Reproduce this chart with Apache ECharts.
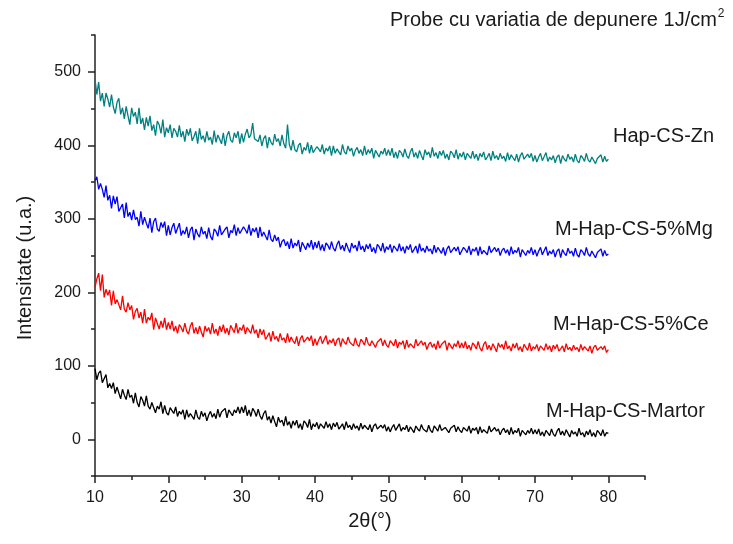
<!DOCTYPE html>
<html>
<head>
<meta charset="utf-8">
<script src="https://cdn.jsdelivr.net/npm/echarts@6/dist/echarts.min.js"></script>
<style>
  html, body { margin: 0; padding: 0; background: #fff; }
  #chart { width: 733px; height: 544px; }
</style>
</head>
<body>
<div id="chart"></div>
<script>
  // 2θ grid of the scans: 10° .. 80°, step 0.25°
  const thetaStart = 10
  const thetaStep = 0.25

  const xTickLabels = [10, 20, 30, 40, 50, 60, 70, 80]
  const xMinorTicks = [15, 25, 35, 45, 55, 65, 75, 85]
  const yTickLabels = [0, 100, 200, 300, 400, 500]
  const yMinorTicks = [-50, 50, 150, 250, 350, 450, 550]
  const seriesNames = ['Hap-CS-Zn', 'M-Hap-CS-5%Mg', 'M-Hap-CS-5%Ce', 'M-Hap-CS-Martor']

  // intensities, one row per 10°
  const hapZn = [
    490, 469, 486, 460, 471, 453, 471, 463, 452, 469, 452, 443, 458, 464, 442, 451, 436, 453, 440, 428,
    451, 439, 445, 429, 451, 429, 437, 421, 438, 426, 440, 420, 428, 413, 433, 428, 416, 435, 411, 424,
    417, 428, 410, 423, 419, 411, 427, 411, 419, 405, 422, 413, 423, 406, 412, 419, 402, 423, 408, 413,
    404, 419, 407, 411, 401, 420, 404, 414, 408, 402, 417, 399, 413, 419, 407, 404, 417, 410, 419, 402,
    416, 404, 415, 422, 410, 414, 430, 409, 411, 405, 414, 399, 409, 413, 396, 411, 404, 400, 415, 405,
    409, 399, 414, 402, 396, 428, 401, 393, 407, 394, 391, 400, 403, 388, 397, 393, 404, 389, 400, 390,
    388, 398, 395, 391, 401, 388, 396, 392, 399, 386, 399, 389, 395, 396, 387, 401, 391, 388, 399, 392,
    396, 385, 393, 397, 389, 394, 386, 399, 387, 394, 389, 396, 382, 393, 394, 384, 392, 388, 396, 386,
    394, 386, 396, 383, 391, 382, 393, 390, 384, 395, 386, 382, 391, 396, 384, 390, 382, 393, 386, 380,
    394, 387, 391, 383, 397, 385, 390, 382, 392, 386, 393, 382, 388, 380, 392, 389, 383, 394, 381, 389,
    384, 391, 380, 389, 387, 382, 392, 382, 388, 379, 389, 384, 391, 380, 384, 389, 379, 392, 382, 386,
    380, 389, 382, 385, 378, 390, 380, 387, 383, 379, 388, 377, 386, 390, 381, 380, 388, 383, 389, 378,
    386, 377, 384, 389, 379, 381, 390, 378, 384, 380, 386, 376, 384, 387, 375, 386, 381, 378, 388, 381,
    384, 377, 388, 379, 376, 386, 383, 378, 389, 380, 377, 384, 386, 375, 382, 380, 387, 377, 385, 378,
    381
  ]
  const hapMg = [
    352, 357, 340, 348, 340, 329, 345, 325, 332, 314, 331, 320, 330, 310, 315, 320, 301, 322, 303, 309,
    298, 312, 299, 302, 290, 310, 292, 302, 294, 287, 301, 281, 296, 301, 286, 283, 295, 288, 296, 277,
    291, 278, 288, 294, 280, 282, 294, 277, 284, 279, 289, 274, 285, 289, 271, 286, 279, 275, 289, 279,
    283, 273, 288, 276, 271, 286, 283, 276, 291, 278, 276, 286, 289, 274, 284, 281, 292, 277, 288, 280,
    278, 289, 285, 280, 292, 277, 287, 282, 288, 274, 289, 276, 282, 283, 271, 285, 272, 269, 278, 270,
    275, 261, 269, 272, 263, 269, 259, 273, 260, 267, 263, 271, 255, 268, 269, 258, 267, 261, 271, 258,
    268, 260, 270, 257, 265, 256, 267, 264, 258, 269, 260, 256, 265, 270, 258, 264, 256, 267, 260, 254,
    267, 260, 264, 256, 270, 258, 263, 255, 265, 259, 266, 255, 261, 253, 265, 262, 256, 267, 254, 262,
    258, 265, 254, 263, 261, 256, 266, 256, 262, 253, 263, 258, 265, 254, 258, 263, 253, 266, 256, 260,
    254, 263, 256, 259, 252, 264, 254, 261, 257, 253, 261, 250, 259, 263, 254, 253, 261, 256, 262, 251,
    252, 261, 258, 254, 263, 251, 259, 256, 261, 250, 262, 252, 257, 259, 251, 263, 254, 252, 261, 255,
    260, 250, 257, 260, 253, 258, 250, 262, 252, 257, 254, 261, 248, 258, 259, 250, 257, 253, 261, 251,
    258, 249, 256, 261, 251, 253, 262, 250, 256, 252, 258, 248, 256, 259, 247, 258, 253, 250, 260, 253,
    256, 249, 260, 251, 248, 258, 255, 250, 261, 252, 249, 256, 258, 247, 254, 252, 259, 249, 257, 250,
    252
  ]
  const hapCe = [
    207, 218, 226, 202, 224, 193, 204, 196, 203, 182, 202, 184, 190, 191, 176, 195, 177, 173, 186, 176,
    182, 163, 174, 178, 165, 173, 158, 177, 158, 166, 162, 172, 149, 165, 165, 150, 161, 152, 165, 149,
    159, 150, 161, 147, 154, 144, 156, 152, 146, 158, 147, 143, 154, 159, 144, 152, 143, 154, 146, 139,
    154, 147, 152, 143, 158, 144, 150, 141, 154, 146, 156, 144, 151, 142, 155, 153, 145, 158, 144, 152,
    148, 156, 143, 152, 150, 144, 156, 144, 149, 138, 150, 142, 149, 136, 140, 145, 133, 147, 136, 140,
    133, 144, 135, 138, 131, 144, 132, 139, 134, 130, 140, 127, 137, 141, 132, 130, 139, 134, 141, 127,
    137, 128, 135, 140, 130, 132, 141, 129, 135, 131, 137, 127, 135, 138, 126, 137, 132, 129, 139, 132,
    134, 127, 138, 129, 126, 136, 133, 128, 139, 130, 127, 134, 136, 125, 132, 130, 137, 127, 135, 128,
    125, 134, 131, 127, 136, 124, 132, 129, 134, 123, 135, 125, 130, 132, 124, 136, 127, 125, 134, 128,
    132, 122, 129, 132, 125, 130, 122, 134, 124, 129, 127, 134, 121, 131, 132, 123, 130, 126, 134, 124,
    131, 124, 133, 123, 128, 121, 131, 128, 123, 133, 124, 120, 129, 133, 122, 128, 121, 130, 125, 119,
    131, 125, 129, 122, 134, 123, 127, 120, 130, 124, 131, 121, 126, 119, 129, 127, 121, 131, 120, 126,
    123, 129, 120, 127, 126, 121, 130, 122, 127, 119, 128, 123, 129, 120, 123, 127, 119, 130, 122, 125,
    120, 128, 122, 125, 119, 129, 121, 126, 123, 120, 127, 117, 125, 128, 121, 119, 126, 122, 127, 118,
    122
  ]
  const hapMartor = [
    96, 81, 90, 93, 77, 77, 88, 70, 76, 69, 77, 62, 71, 73, 55, 68, 60, 54, 68, 57,
    60, 49, 63, 50, 44, 58, 53, 45, 59, 45, 41, 50, 52, 36, 45, 41, 51, 35, 46, 36,
    33, 43, 39, 35, 44, 31, 38, 34, 40, 27, 40, 30, 35, 36, 27, 40, 30, 27, 38, 31,
    36, 25, 33, 38, 30, 35, 28, 41, 30, 37, 35, 42, 29, 40, 41, 32, 40, 36, 44, 35,
    44, 36, 46, 32, 40, 31, 42, 38, 31, 41, 32, 27, 35, 39, 26, 31, 22, 32, 24, 17,
    30, 23, 26, 18, 31, 19, 24, 15, 25, 19, 26, 15, 21, 13, 25, 22, 16, 27, 13, 21,
    17, 23, 14, 21, 20, 15, 24, 16, 21, 13, 22, 17, 23, 14, 17, 21, 13, 24, 16, 19,
    13, 21, 15, 18, 12, 22, 14, 19, 16, 13, 20, 10, 18, 21, 14, 12, 19, 15, 20, 11,
    17, 10, 16, 20, 12, 13, 21, 11, 16, 13, 19, 10, 17, 19, 9, 18, 14, 11, 20, 14,
    16, 10, 19, 12, 9, 18, 15, 11, 20, 12, 10, 16, 18, 9, 15, 13, 19, 10, 17, 12,
    9, 16, 14, 11, 18, 8, 15, 12, 16, 7, 17, 9, 13, 14, 8, 18, 10, 8, 16, 11,
    14, 6, 12, 15, 9, 13, 6, 16, 7, 12, 9, 15, 4, 12, 13, 6, 12, 8, 15, 7,
    13, 7, 14, 5, 10, 4, 12, 10, 5, 14, 7, 4, 11, 15, 6, 11, 5, 13, 8, 3,
    12, 7, 10, 4, 15, 6, 9, 3, 11, 6, 13, 4, 9, 3, 12, 9, 5, 13, 4, 9,
    8
  ]

  const font = '"Liberation Sans", Arial, sans-serif'
  const textColor = '#1a1a1a'

  const toPoints = arr => arr.map((v, i) => [thetaStart + i * thetaStep, v])

  const chart = echarts.init(document.getElementById('chart'))

  const lineSeries = (name, arr, color) => ({
    name: name,
    type: 'line',
    data: toPoints(arr),
    showSymbol: false,
    symbol: 'none',
    lineStyle: { color: color, width: 1.3 },
    itemStyle: { color: color },
    animation: false,
    silent: true
  })

  const axisLine = { show: true, onZero: false, lineStyle: { color: '#222', width: 1.5 } }
  const tickStyle = { color: '#222', width: 1.5 }

  const option = {
    backgroundColor: '#fff',
    animation: false,
    grid: { left: 95, right: 88, top: 35, bottom: 68 },
    xAxis: [
      {
        type: 'value',
        min: 10,
        max: 85,
        interval: 10,
        axisLine: axisLine,
        splitLine: { show: false },
        axisTick: { show: true, customValues: xTickLabels, length: 7, lineStyle: tickStyle },
        axisLabel: { customValues: xTickLabels, color: textColor, fontSize: 16, fontFamily: font, margin: 14 }
      },
      {
        type: 'value',
        min: 10,
        max: 85,
        position: 'bottom',
        axisLine: { show: false, onZero: false },
        splitLine: { show: false },
        axisTick: { show: true, customValues: xMinorTicks, length: 4, lineStyle: tickStyle },
        axisLabel: { show: false }
      }
    ],
    yAxis: [
      {
        type: 'value',
        min: -50,
        max: 550,
        position: 'left',
        axisLine: axisLine,
        splitLine: { show: false },
        axisTick: { show: true, customValues: yTickLabels, length: 7, lineStyle: tickStyle },
        axisLabel: { customValues: yTickLabels, color: textColor, fontSize: 16, fontFamily: font, margin: 14 }
      },
      {
        type: 'value',
        min: -50,
        max: 550,
        position: 'left',
        axisLine: { show: false, onZero: false },
        splitLine: { show: false },
        axisTick: { show: true, customValues: yMinorTicks, length: 4, lineStyle: tickStyle },
        axisLabel: { show: false }
      }
    ],
    series: [
      lineSeries(seriesNames[0], hapZn, '#008080'),
      lineSeries(seriesNames[1], hapMg, '#0000ff'),
      lineSeries(seriesNames[2], hapCe, '#ff0000'),
      lineSeries(seriesNames[3], hapMartor, '#000000')
    ],
    graphic: [
      {
        type: 'text', x: 390, y: 20,
        style: {
          text: '{a|Probe cu variatia de depunere 1J/cm}{s|2}',
          fill: textColor,
          verticalAlign: 'middle',
          rich: {
            a: { fontSize: 20, fontFamily: font, fill: textColor },
            s: { fontSize: 12, fontFamily: font, fill: textColor, verticalAlign: 'top', padding: [0, 0, 12, 1] }
          }
        }
      },
      { type: 'text', x: 613, y: 136, style: { text: seriesNames[0], fontSize: 20, fontFamily: font, fill: textColor, verticalAlign: 'middle' } },
      { type: 'text', x: 555, y: 229, style: { text: seriesNames[1], fontSize: 20, fontFamily: font, fill: textColor, verticalAlign: 'middle' } },
      { type: 'text', x: 553, y: 324, style: { text: seriesNames[2], fontSize: 20, fontFamily: font, fill: textColor, verticalAlign: 'middle' } },
      { type: 'text', x: 546, y: 411, style: { text: seriesNames[3], fontSize: 20, fontFamily: font, fill: textColor, verticalAlign: 'middle' } },
      {
        type: 'text', x: 25, y: 268, rotation: Math.PI / 2,
        style: { text: 'Intensitate (u.a.)', fontSize: 20, fontFamily: font, fill: textColor, align: 'center', verticalAlign: 'middle' }
      },
      {
        type: 'text', x: 370, y: 521,
        style: { text: '2θ(°)', fontSize: 20, fontFamily: font, fill: textColor, align: 'center', verticalAlign: 'middle' }
      }
    ]
  }

  chart.setOption(option)
</script>
</body>
</html>
